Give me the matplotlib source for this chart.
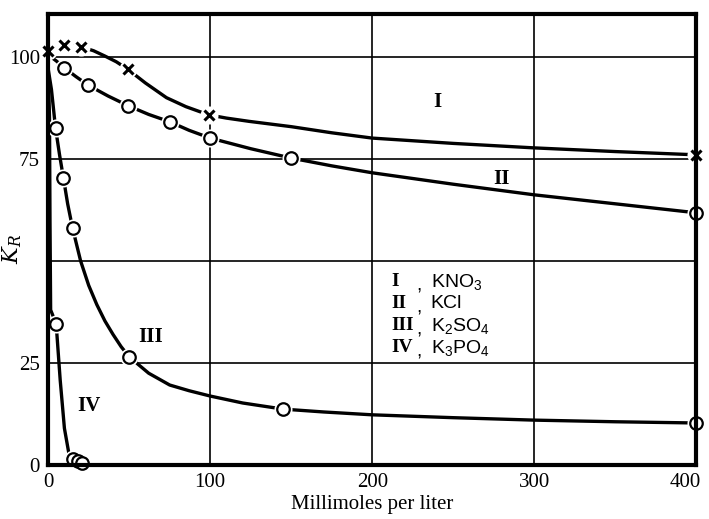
import matplotlib.pyplot as plt
from matplotlib.transforms import ScaledTranslation

plt.rcParams['font.family'] = ['Liberation Serif', 'DejaVu Serif']
plt.rcParams['mathtext.default'] = 'regular'

# measured points (markers)
x_kno3 = [0, 10, 20, 49, 99, 400]
y_kno3 = [101.5, 103, 102.5, 97, 85.8, 76]
x_kcl = [10, 24.5, 49.5, 75, 100, 150, 400]
y_kcl = [97.3, 93.1, 88, 84.1, 80.1, 75.2, 61.8]
x_k2so4 = [4.5, 9.4, 15, 50, 145, 400]
y_k2so4 = [82.6, 70.3, 58.1, 26.5, 13.7, 10.3]
x_k3po4 = [4.9, 15.1, 18.2, 21]
y_k3po4 = [34.6, 1.5, 1.0, 0.4]

# drawn curves
cx_kno3 = [0, 10, 20, 28, 35, 42, 49, 60, 73, 85, 99, 110, 124, 150, 175,
           200, 250, 300, 350, 400]
cy_kno3 = [101.5, 103, 102.5, 101.5, 100.2, 98.8, 97, 93.6, 90, 87.8, 85.8,
           85, 84.2, 82.9, 81.4, 80.1, 78.8, 77.7, 76.8, 76]
cx_kcl = [0, 5, 10, 17, 24.5, 37, 49.5, 62, 75, 87, 100, 125, 150, 175,
          200, 250, 300, 350, 400]
cy_kcl = [100.5, 99, 97.3, 95.2, 93.1, 90.4, 88, 85.9, 84.1, 82, 80.1,
          77.5, 75.2, 73.3, 71.6, 68.8, 66.2, 64, 61.8]
cx_k2so4 = [0, 2, 4.5, 7, 9.4, 12, 15, 20, 25, 30, 35, 40, 45, 50, 62, 75,
            87, 100, 120, 145, 170, 200, 250, 300, 350, 400]
cy_k2so4 = [97, 92, 82.6, 76, 70.3, 64, 58.1, 50, 44, 39.3, 35.3, 32, 29,
            26.5, 22.5, 19.6, 18.2, 16.9, 15.2, 13.7, 13, 12.3, 11.6, 11,
            10.6, 10.3]
cx_k3po4 = [0, 0.8, 1.1, 1.5, 4.9, 7.4, 10, 12.9, 15.1, 18.2, 21]
cy_k3po4 = [97, 85, 60, 38, 34.6, 20.8, 9, 2.5, 1.5, 1.0, 0.4]

xticks = [0, 100, 200, 300, 400]
yticks = [0, 25, 75, 100]

leg_names = ['I', 'II', 'III', 'IV']
leg_salts = [r'KNO$_3$', r'KCl', r'K$_2$SO$_4$', r'K$_3$PO$_4$']

fig = plt.figure(figsize=(7.09, 5.19), dpi=100)
ax = fig.add_axes([0.068, 0.104, 0.914, 0.869])

for v in [100, 200, 300]:
    ax.axvline(v, color='k', lw=1.2, zorder=1)
for v in [25, 50, 75, 100]:
    ax.axhline(v, color='k', lw=1.2, zorder=1)

for cx, cy in [(cx_kno3, cy_kno3), (cx_kcl, cy_kcl),
               (cx_k2so4, cy_k2so4), (cx_k3po4, cy_k3po4)]:
    ax.plot(cx, cy, color='k', lw=2.4, zorder=2, solid_joinstyle='round')

# white halos so the lines break at the points
for x, y in [(x_kno3, y_kno3), (x_kcl, y_kcl), (x_k2so4, y_k2so4), (x_k3po4, y_k3po4)]:
    ax.plot(x, y, 'o', ms=13, color='white', mec='none', zorder=3, clip_on=False)

ax.plot(x_kno3, y_kno3, 'x', ms=7, mew=2.2, color='k', zorder=4, clip_on=False)
for x, y in [(x_kcl, y_kcl), (x_k2so4, y_k2so4), (x_k3po4, y_k3po4)]:
    ax.plot(x, y, 'o', ms=9, mfc='white', mec='k', mew=1.6, zorder=4, clip_on=False)

ax.set_xlim(0, 400)
ax.set_ylim(0, 110.5)
ax.set_xticks(xticks)
ax.set_yticks(yticks)
ax.tick_params(length=0, labelsize=15, pad=6)
for sp in ax.spines.values():
    sp.set_linewidth(3)
    sp.set_zorder(5)

# keep the last x label inside the figure
lab = ax.get_xticklabels()[-1]
lab.set_transform(lab.get_transform() + ScaledTranslation(-8 / 72, 0, fig.dpi_scale_trans))

ax.set_xlabel('Millimoles per liter', fontsize=15, labelpad=2)
ax.text(-22, 53, r'$K_R$', fontsize=16, style='italic', rotation=90,
        ha='center', va='center', family=['DejaVu Serif'])

rfont = dict(fontsize=15, fontweight='bold', ha='center', va='center')
ax.text(240, 89, 'I', **rfont)
ax.text(280, 70, 'II', **rfont)
ax.text(63, 31.4, 'III', **rfont)
ax.text(25, 14.5, 'IV', **rfont)

for i, (n, s) in enumerate(zip(leg_names, leg_salts)):
    yy = 44.9 - i * 5.4
    ax.text(212, yy, n, fontsize=14, fontweight='bold', ha='left', va='center')
    ax.text(227, yy - 1, ',', fontsize=14, ha='left', va='center',
            family=['Liberation Sans', 'DejaVu Sans'])
    ax.text(236, yy, s, fontsize=14, ha='left', va='center',
            family=['Liberation Sans', 'DejaVu Sans'])

fig.savefig('out.png', dpi=100)
